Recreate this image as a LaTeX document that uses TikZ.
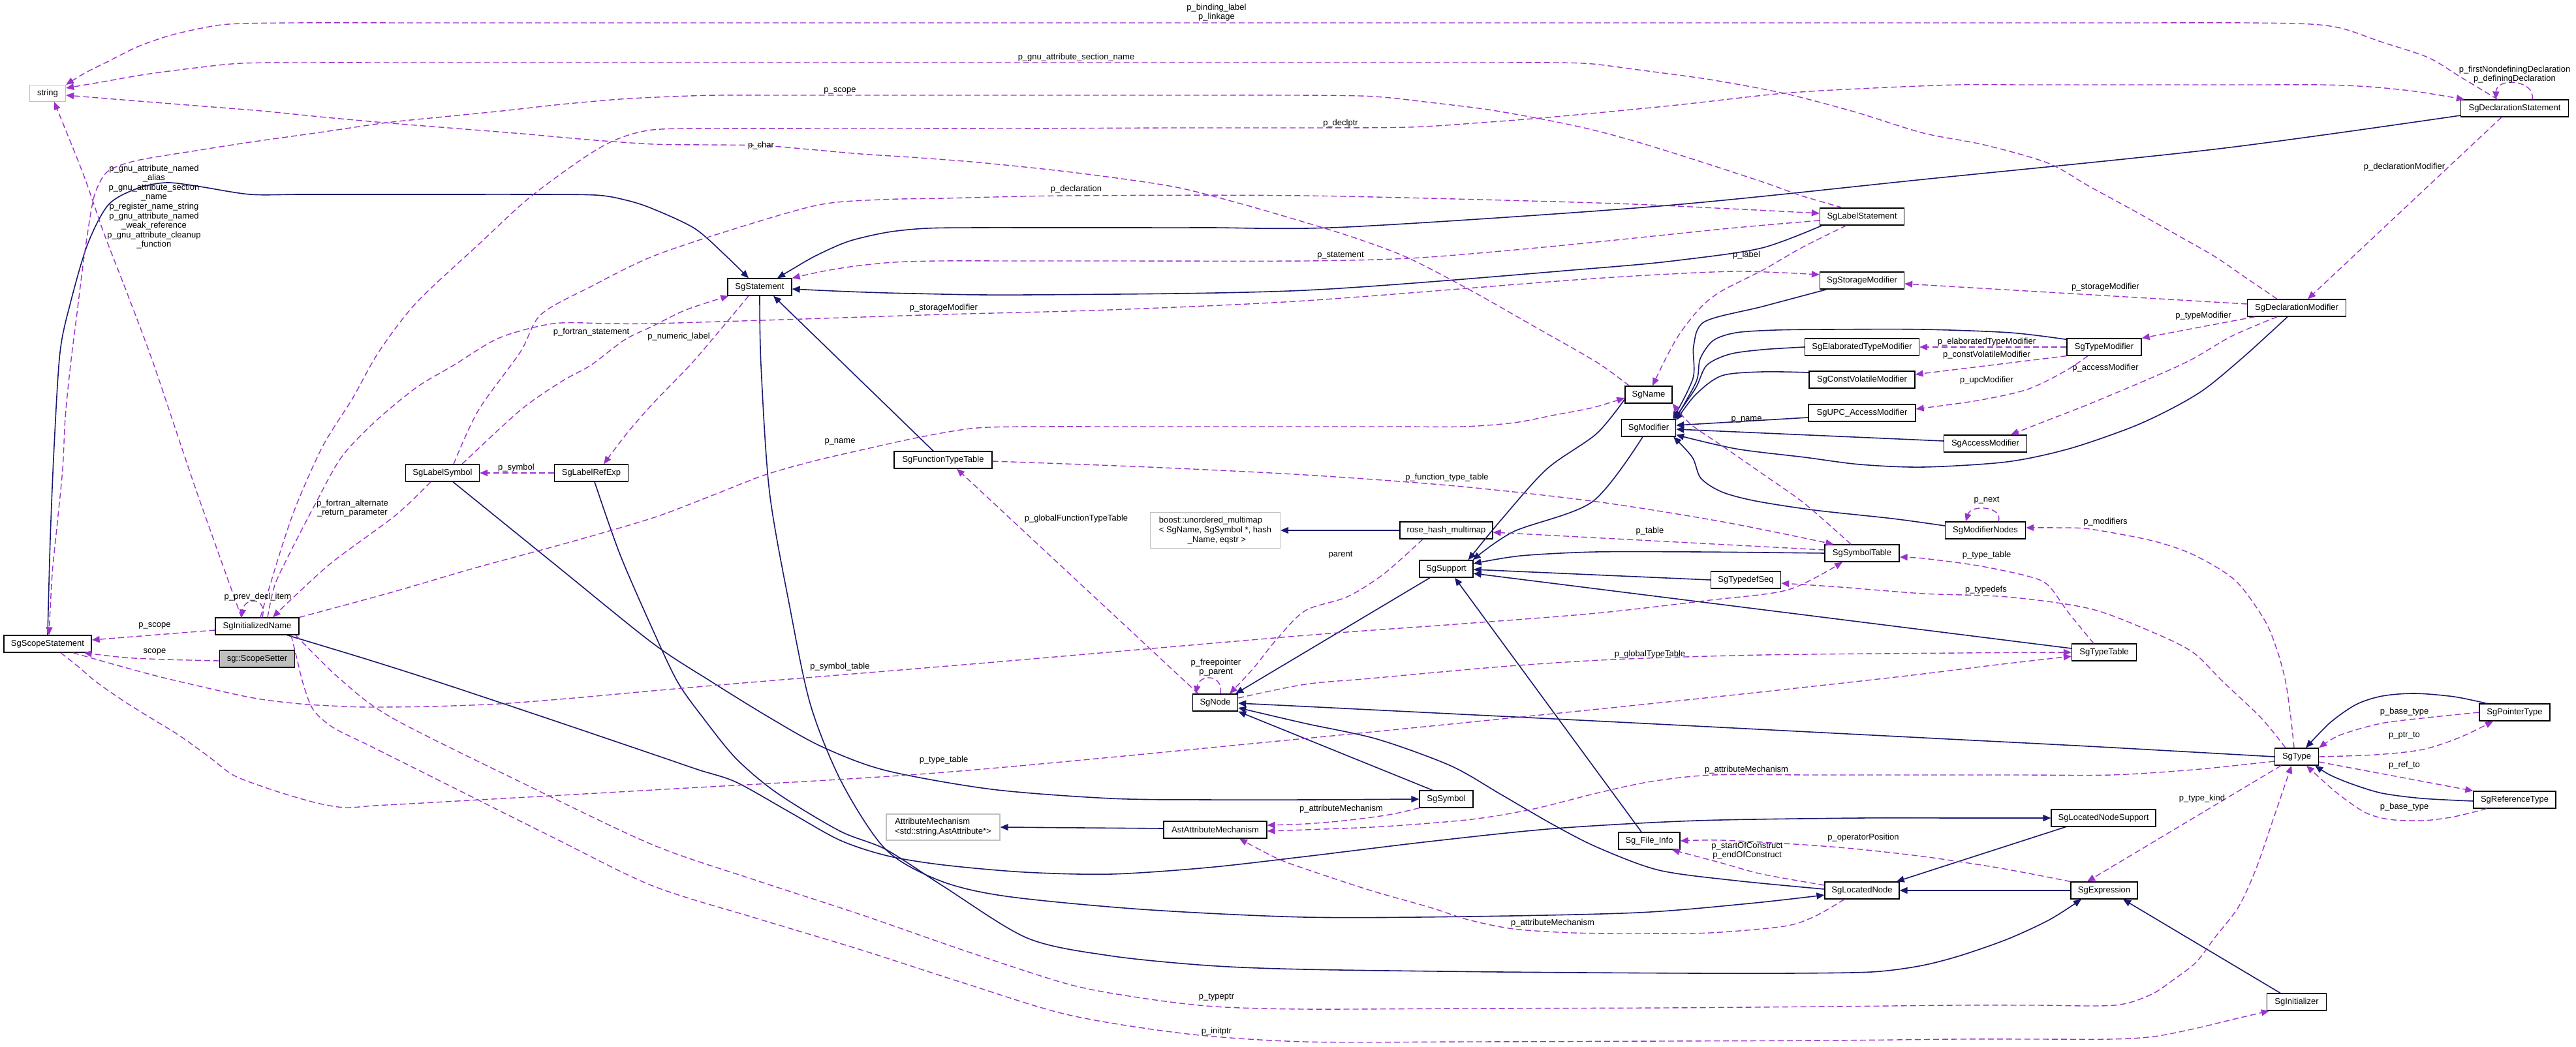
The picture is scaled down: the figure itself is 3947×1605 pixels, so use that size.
\documentclass[tikz,border=0pt]{standalone}
\usepackage{fontspec}
\setmainfont{Liberation Sans}
\usetikzlibrary{arrows.meta}
\definecolor{edgeblue}{HTML}{191970}
\definecolor{edgepurple}{HTML}{9A32CD}
\definecolor{boxgray}{HTML}{BFBFBF}
\tikzset{
  box/.style={draw=black, line width=1.3pt, minimum height=26pt, inner sep=0pt, font=\fontsize{13}{15}\selectfont},
  gbox/.style={box, draw=boxgray},
  inh/.style={draw=edgeblue, line width=1.6pt, -{Triangle[length=12pt,width=10pt]}},
  dep/.style={draw=edgepurple, line width=1.4pt, dash pattern=on 9pt off 5pt, -{Triangle[length=12pt,width=10pt]}},
  lbl/.style={font=\fontsize{13}{14.6}\selectfont, align=center, inner sep=0pt},
}
\begin{document}
\begin{tikzpicture}[x=1pt,y=-1pt]
\fill[white] (0,0) rectangle (3947,1605);
\useasboundingbox (0,0) rectangle (3947,1605);

% ---------------- nodes
\node[gbox, minimum width=55pt, minimum height=25pt] (string) at (73,143) {string};
\node[box, minimum width=98pt] (SgStatement) at (1164,440) {SgStatement};
\node[box, minimum width=129pt] (SgLabelStatement) at (2853,332) {SgLabelStatement};
\node[box, minimum width=129pt] (SgStorageModifier) at (2853,430) {SgStorageModifier};
\node[box, minimum width=175pt] (SgElaboratedTypeModifier) at (2853,532) {SgElaboratedTypeModifier};
\node[box, minimum width=162pt] (SgConstVolatileModifier) at (2853,582) {SgConstVolatileModifier};
\node[box, minimum width=164pt] (SgUPCAccessModifier) at (2853,633) {SgUPC\_AccessModifier};
\node[box, minimum width=165pt] (SgDeclarationStatement) at (3853,166) {SgDeclarationStatement};
\node[box, minimum width=151pt] (SgDeclarationModifier) at (3519,472) {SgDeclarationModifier};
\node[box, minimum width=114pt] (SgTypeModifier) at (3224,532) {SgTypeModifier};
\node[box, minimum width=134pt] (SgScopeStatement) at (73,987) {SgScopeStatement};
\node[box, minimum width=128pt] (SgInitializedName) at (394,960) {SgInitializedName};
\node[box, minimum width=115pt, fill=boxgray] (ScopeSetter) at (394,1010) {sg::ScopeSetter};
\node[box, minimum width=113pt] (SgLabelSymbol) at (678,725) {SgLabelSymbol};
\node[box, minimum width=113pt] (SgLabelRefExp) at (906,725) {SgLabelRefExp};
\node[box, minimum width=150pt] (SgFunctionTypeTable) at (1445,705) {SgFunctionTypeTable};
\node[gbox, minimum width=199pt, minimum height=55pt, align=left, font=\fontsize{13}{14.8}\selectfont] (boostmap) at (1862,813) {boost::unordered\_multimap\\< SgName, SgSymbol *, hash\\\hspace*{44pt}\_Name, eqstr >};
\node[box, minimum width=69pt] (SgNode) at (1862,1077) {SgNode};
\node[box, minimum width=72pt] (SgName) at (2526,605) {SgName};
\node[box, minimum width=83pt] (SgModifier) at (2526,656) {SgModifier};
\node[box, minimum width=142pt] (rosehash) at (2216,813) {rose\_hash\_multimap};
\node[box, minimum width=82pt] (SgSupport) at (2216,872) {SgSupport};
\node[box, minimum width=114pt] (SgSymbolTable) at (2853,848) {SgSymbolTable};
\node[box, minimum width=107pt] (SgTypedefSeq) at (2675,889) {SgTypedefSeq};
\node[box, minimum width=127pt] (SgAccessModifier) at (3042,680) {SgAccessModifier};
\node[box, minimum width=123pt] (SgModifierNodes) at (3042,813) {SgModifierNodes};
\node[box, minimum width=99pt] (SgTypeTable) at (3224,1000) {SgTypeTable};
\node[box, minimum width=108pt] (SgPointerType) at (3853,1092) {SgPointerType};
\node[box, minimum width=67pt] (SgType) at (3519,1160) {SgType};
\node[box, minimum width=126pt] (SgReferenceType) at (3853,1226) {SgReferenceType};
\node[box, minimum width=160pt] (SgLocatedNodeSupport) at (3223,1254) {SgLocatedNodeSupport};
\node[box, minimum width=102pt] (SgExpression) at (3224,1365) {SgExpression};
\node[box, minimum width=91pt] (SgInitializer) at (3519,1536) {SgInitializer};
\node[box, minimum width=82pt] (SgSymbol) at (2216,1225) {SgSymbol};
\node[box, minimum width=94pt] (SgFileInfo) at (2527,1289) {Sg\_File\_Info};
\node[box, minimum width=114pt] (SgLocatedNode) at (2853,1365) {SgLocatedNode};
\node[gbox, minimum width=174pt, minimum height=40pt, align=left, font=\fontsize{13}{14.8}\selectfont] (AttrMech) at (1445,1268) {AttributeMechanism\\<std::string,AstAttribute*>};
\node[box, minimum width=158pt] (AstAttr) at (1862,1272) {AstAttributeMechanism};

% ---------------- inheritance edges
\draw[inh] plot[smooth,tension=0.5] coordinates {(SgScopeStatement.north) (77,826) (83,683) (92,540) (108,464) (134,375) (166,314) (210,289) (255,280) (306,286) (383,298) (460,298) (560,298) (690,298) (800,298) (912,299) (960,307) (1000,320) (1064,350) (1110,390) ([shift={(-17,0)}]SgStatement.north)};
\draw[inh] plot[smooth,tension=0.5] coordinates {([shift={(4,0)}]SgLabelStatement.south west) (2700,380) (2580,398) (2446,411) (2000,445) (1574,452) (1400,450) (1300,447) ([shift={(0,3)}]SgStatement.east)};
\draw[inh] plot[smooth,tension=0.5] coordinates {([shift={(0,11)}]SgDeclarationStatement.west) (3400,228) (2947,275) (2542,316) (2064,348) (1850,349) (1700,349) (1600,349) (1500,349) (1420,350) (1360,356) (1300,370) (1250,392) (1215,412) ([shift={(27,0)}]SgStatement.north)};
\draw[inh] ([shift={(-15,0)}]SgFunctionTypeTable.north) -- ([shift={(21,0)}]SgStatement.south);
\draw[inh] plot[smooth,tension=0.5] coordinates {(SgStatement.south) (1166,560) (1179,754) (1210,930) (1242,1081) (1290,1200) (1357,1302) (1440,1350) (1542,1374) (1750,1394) (2000,1406) (2250,1405) (2510,1399) (2680,1385) ([shift={(0,7)}]SgLocatedNode.west)};
\draw[inh] plot[smooth,tension=0.5] coordinates {([shift={(0,-2)}]SgLocatedNode.west) (2660,1350) (2542,1334) (2450,1300) (2383,1266) (2300,1218) (2223,1174) (2110,1133) (2000,1109) ([shift={(0,8)}]SgNode.east)};
\draw[inh] ([shift={(-21,0)}]SgSymbol.north) -- (SgNode.south east);
\draw[inh] plot[smooth,tension=0.5] coordinates {(SgType.west) (3200,1144) (2947,1131) (2500,1108) (2200,1093) (2000,1083) ([shift={(0,1)}]SgNode.east)};
\draw[inh] ([shift={(-25,0)}]SgSupport.south) -- ([shift={(-4,0)}]SgNode.north east);
\draw[inh] plot[smooth,tension=0.5] coordinates {([shift={(16,0)}]SgLabelSymbol.south) (850,865) (1000,986) (1090,1045) (1179,1100) (1260,1145) (1357,1181) (1520,1210) (1702,1224) (1850,1226) (2000,1226) (SgSymbol.west)};
\draw[inh] plot[smooth,tension=0.5] coordinates {([shift={(5,0)}]SgLabelRefExp.south) (950,850) (1000,965) (1038,1045) (1077,1100) (1128,1163) (1191,1216) (1287,1274) (1357,1302) (1446,1359) (1574,1438) (1700,1465) (1850,1480) (2000,1486) (2300,1490) (2600,1492) (2740,1492) (2867,1490) (2940,1481) (3000,1466) (3075,1440) (3140,1410) ([shift={(-35,0)}]SgExpression.south)};
\draw[inh] plot[smooth,tension=0.5] coordinates {([shift={(46,0)}]SgInitializedName.south) (560,1010) (670,1045) (835,1100) (1000,1156) (1070,1180) (1128,1199) (1210,1245) (1287,1288) (1360,1312) (1446,1326) (1570,1337) (1702,1340) (1850,1330) (2000,1313) (2190,1290) (2383,1270) (2600,1258) (2850,1254) (3000,1254) (SgLocatedNodeSupport.west)};
\draw[inh] ([shift={(-58,0)}]SgLocatedNodeSupport.south) -- ([shift={(-5,0)}]SgLocatedNode.north east);
\draw[inh] (SgExpression.west) -- (SgLocatedNode.east);
\draw[inh] ([shift={(-25,0)}]SgInitializer.north) -- ([shift={(29,0)}]SgExpression.south);
\draw[inh] plot[smooth,tension=0.5] coordinates {([shift={(12,0)}]SgPointerType.north west) (3760,1068) (3700,1063) (3650,1067) (3610,1080) (3570,1108) ([shift={(14,0)}]SgType.north)};
\draw[inh] plot[smooth,tension=0.5] coordinates {([shift={(0,2)}]SgReferenceType.west) (3712,1224) (3650,1216) (3604,1202) (3570,1188) ([shift={(-6,0)}]SgType.south east)};
\draw[inh] (rosehash.west) -- (boostmap.east);
\draw[inh] ([shift={(0,-2)}]AstAttr.west) -- (AttrMech.east);
\draw[inh] plot[smooth,tension=0.5] coordinates {([shift={(0,7)}]SgName.west) (2446,665) (2370,719) (2300,797) ([shift={(-8,0)}]SgSupport.north east)};
\draw[inh] plot[smooth,tension=0.5] coordinates {([shift={(-9,0)}]SgModifier.south) (2440,769) (2319,815) ([shift={(-1,0)}]SgSupport.north east)};
\draw[inh] plot[smooth,tension=0.5] coordinates {(SgSymbolTable.west) (2600,846) (2446,846) (2330,852) ([shift={(0,-8)}]SgSupport.east)};
\draw[inh] (SgTypedefSeq.west) -- ([shift={(0,1)}]SgSupport.east);
\draw[inh] ([shift={(0,-6)}]SgTypeTable.west) -- ([shift={(0,7)}]SgSupport.east);
\draw[inh] ([shift={(-12,0)}]SgFileInfo.north) -- ([shift={(13,0)}]SgSupport.south);
\draw[inh] plot[smooth,tension=0.5] coordinates {([shift={(11,0)}]SgStorageModifier.south west) (2700,470) (2612,493) (2595,530) (2594,580) ([shift={(-5,0)}]SgModifier.north east)};
\draw[inh] plot[smooth,tension=0.5] coordinates {(SgElaboratedTypeModifier.west) (2700,536) (2650,543) (2615,560) (2598,595) ([shift={(-3,0)}]SgModifier.north east)};
\draw[inh] plot[smooth,tension=0.5] coordinates {([shift={(0,2)}]SgTypeModifier.north west) (3080,510) (2947,505) (2800,505) (2720,506) (2660,510) (2625,522) (2605,550) (2599,585) ([shift={(-1,0)}]SgModifier.north east)};
\draw[inh] plot[smooth,tension=0.5] coordinates {([shift={(0,-11)}]SgConstVolatileModifier.west) (2700,570) (2638,576) (2598,605) ([shift={(0,2)}]SgModifier.north east)};
\draw[inh] ([shift={(0,7)}]SgUPCAccessModifier.west) -- ([shift={(0,-4)}]SgModifier.east);
\draw[inh] ([shift={(0,-4)}]SgAccessModifier.west) -- ([shift={(0,2)}]SgModifier.east);
\draw[inh] plot[smooth,tension=0.5] coordinates {([shift={(-14,0)}]SgDeclarationModifier.south) (3440,545) (3380,595) (3330,625) (3266,655) (3170,688) (3075,708) (2947,716) (2850,712) (2765,701) (2660,688) ([shift={(0,-3)}]SgModifier.south east)};
\draw[inh] plot[smooth,tension=0.5] coordinates {([shift={(0,-7)}]SgModifierNodes.west) (2900,795) (2780,782) (2690,768) (2638,754) (2606,733) (2593,701) ([shift={(-4,0)}]SgModifier.south east)};

% ---------------- usage edges
\draw[dep] plot[smooth,tension=0.5] coordinates {([shift={(-26,0)}]SgDeclarationStatement.north) (3770,118) (3720,88) (3648,64) (3590,44) (3540,37) (3440,35) (3240,35) (2840,35) (2040,35) (1251,35) (851,35) (651,35) (451,35) (351,37) (300,45) (255,56) (210,72) (166,94) (130,112) (string.north east)};
\draw[dep] plot[smooth,tension=0.5] coordinates {([shift={(-30,0)}]SgDeclarationModifier.north) (3440,425) (3393,393) (3330,357) (3266,321) (3200,285) (3138,250) (3040,222) (2947,204) (2840,171) (2733,143) (2620,122) (2510,107) (2440,98) (2383,96) (2280,96) (2080,96) (1680,96) (1080,96) (670,96) (470,96) (370,97) (300,104) (223,114) (160,125) ([shift={(0,-8)}]string.east)};
\draw[dep] plot[smooth,tension=0.5] coordinates {([shift={(-30,0)}]SgLabelStatement.north) (2760,300) (2701,279) (2600,246) (2510,218) (2440,199) (2370,184) (2280,168) (2191,157) (2130,150) (2083,147) (1980,146) (1780,146) (1400,146) (1200,146) (1100,146) (1030,148) (950,152) (860,160) (770,170) (680,179) (593,188) (490,203) (383,218) (300,231) (210,246) (166,262) (148,290) (140,321) (128,400) (118,480) (108,560) (100,640) (96,719) (88,800) (80,880) ([shift={(2,0)}]SgScopeStatement.north)};
\draw[dep] plot[smooth,tension=0.5] coordinates {([shift={(7,0)}]SgName.north west) (2446,555) (2350,500) (2255,446) (2159,396) (2080,366) (2000,341) (1900,312) (1797,286) (1650,265) (1510,250) (1410,242) (1319,236) (1240,229) (1166,223) (1080,222) (1000,221) (900,214) (800,205) (700,197) (600,189) (500,180) (400,170) (300,162) (200,154) ([shift={(0,3)}]string.east)};
\draw[dep] plot[smooth,tension=0.5] coordinates {([shift={(-24,0)}]SgInitializedName.north) (300,750) (236,560) (195,450) (159,357) (128,268) ([shift={(10,0)}]string.south)};
\draw[dep] plot[smooth,tension=0.5] coordinates {([shift={(5,0)}]SgInitializedName.north) (430,844) (455,772) (495,683) (540,611) (580,540) (638,464) (733,375) (810,304) (893,243) (944,214) (1000,199) (1100,197) (1300,197) (1550,197) (1800,196) (2000,196) (2159,195) (2270,188) (2383,179) (2560,162) (2733,143) (2870,135) (3000,130) (3100,130) (3220,130) (3340,130) (3460,130) (3559,130) (3630,133) (3700,140) ([shift={(6,0)}]SgDeclarationStatement.north west)};
\draw[dep] plot[smooth,tension=0.5] coordinates {([shift={(16,0)}]SgInitializedName.north) (421,897) (446,844) (485,769) (523,701) (574,647) (638,594) (695,560) (765,518) (848,496) (930,496) (1000,496) (1200,490) (1446,482) (1700,475) (2000,461) (2400,430) (2560,420) (2660,416) (2730,418) ([shift={(0,-9)}]SgStorageModifier.west)};
\draw[dep] plot[smooth,tension=0.5] coordinates {([shift={(17,0)}]SgLabelSymbol.north) (733,629) (797,540) (829,482) (906,439) (1000,393) (1128,350) (1255,314) (1350,306) (1446,304) (1638,300) (2000,300) (2446,311) (2650,320) ([shift={(0,-5)}]SgLabelStatement.west)};
\draw[dep] plot[smooth,tension=0.5] coordinates {([shift={(30,0)}]SgLabelSymbol.north) (797,629) (860,585) (905,560) (957,521) (1000,500) (1051,475) ([shift={(2,0)}]SgStatement.south west)};
\draw[dep] plot[smooth,tension=0.5] coordinates {([shift={(-18,0)}]SgLabelSymbol.south) (606,790) (510,861) (446,919) ([shift={(24,0)}]SgInitializedName.north)};
\draw[dep] ([shift={(8,0)}]SgInitializedName.north) .. controls (410,915) and (375,915) .. ([shift={(-24,0)}]SgInitializedName.north);
\draw[dep] ([shift={(0,6)}]SgInitializedName.west) -- ([shift={(0,-6)}]SgScopeStatement.east);
\draw[dep] plot[smooth,tension=0.5] coordinates {([shift={(0,3)}]ScopeSetter.west) (255,1011) (191,1008) ([shift={(-12,0)}]SgScopeStatement.south east)};
\draw[dep] plot[smooth,tension=0.5] coordinates {([shift={(39,0)}]SgScopeStatement.south) (180,1020) (255,1040) (383,1069) (460,1079) (529,1083) (574,1084) (660,1083) (765,1079) (880,1070) (1000,1059) (1150,1046) (1500,1017) (2000,974) (2230,957) (2446,940) (2620,920) (2740,904) ([shift={(-30,0)}]SgSymbolTable.south)};
\draw[dep] plot[smooth,tension=0.5] coordinates {([shift={(20,0)}]SgScopeStatement.south) (120,1022) (147,1045) (190,1075) (230,1100) (274,1127) (320,1160) (357,1188) (400,1205) (446,1220) (490,1232) (529,1238) (574,1235) (630,1232) (700,1228) (1000,1211) (1446,1184) (2000,1132) (2400,1092) (2650,1066) (2842,1045) (2947,1033) (3060,1019) ([shift={(0,6)}]SgTypeTable.west)};
\draw[dep] plot[smooth,tension=0.5] coordinates {(SgInitializedName.north east) (600,908) (730,870) (870,832) (1000,794) (1090,760) (1172,728) (1250,706) (1319,690) (1410,670) (1497,656) (1600,654) (1702,654) (1850,654) (2000,654) (2130,654) (2242,654) (2320,648) (2383,636) (2440,625) ([shift={(0,5)}]SgName.west)};
\draw[dep] plot[smooth,tension=0.5] coordinates {([shift={(59,0)}]SgInitializedName.south) (520,1040) (600,1100) (800,1200) (1000,1295) (1160,1350) (1319,1402) (1480,1458) (1638,1509) (1750,1530) (1861,1543) (2000,1547) (2250,1546) (2550,1545) (2800,1543) (3000,1541) (3120,1541) (3240,1541) (3295,1525) (3330,1502) (3365,1475) (3393,1438) (3430,1390) (3457,1331) (3485,1250) ([shift={(-8,0)}]SgType.south)};
\draw[dep] plot[smooth,tension=0.5] coordinates {([shift={(52,0)}]SgInitializedName.south) (455,1010) (465,1050) (480,1088) (510,1115) (560,1140) (620,1170) (700,1210) (850,1285) (1000,1358) (1160,1408) (1319,1456) (1480,1508) (1638,1556) (1820,1585) (2000,1597) (2250,1597) (2550,1596) (2800,1595) (3000,1593) (3120,1593) (3234,1593) (3300,1589) (3362,1577) (3420,1563) ([shift={(4,0)}]SgInitializer.south west)};
\draw[dep] (SgLabelRefExp.west) -- (SgLabelSymbol.east);
\draw[dep] plot[smooth,tension=0.5] coordinates {([shift={(-17,0)}]SgStatement.south) (1100,510) (1057,560) (1000,619) (960,665) ([shift={(19,0)}]SgLabelRefExp.north)};
\draw[dep] plot[smooth,tension=0.5] coordinates {([shift={(0,6)}]SgLabelStatement.west) (2650,350) (2446,371) (2300,385) (2159,396) (2000,400) (1700,400) (1550,400) (1440,400) (1370,402) (1310,408) (1260,416) (SgStatement.north east)};
\draw[dep] plot[smooth,tension=0.5] coordinates {([shift={(-24,0)}]SgLabelStatement.south) (2760,380) (2701,414) (2638,446) (2606,471) (2574,511) (2552,550) ([shift={(6,0)}]SgName.north)};
\draw[dep] ([shift={(27,0)}]SgDeclarationStatement.north) .. controls (3885,122) and (3825,118) .. ([shift={(-29,0)}]SgDeclarationStatement.north);
\draw[dep] ([shift={(-20,0)}]SgDeclarationStatement.south) -- ([shift={(17,0)}]SgDeclarationModifier.north);
\draw[dep] ([shift={(0,-6)}]SgDeclarationModifier.west) -- ([shift={(0,5)}]SgStorageModifier.east);
\draw[dep] ([shift={(12,0)}]SgDeclarationModifier.south west) -- (SgTypeModifier.north east);
\draw[dep] plot[smooth,tension=0.5] coordinates {([shift={(-30,0)}]SgDeclarationModifier.south) (3420,515) (3360,550) (3304,576) (3202,619) (3138,644) ([shift={(39,0)}]SgAccessModifier.north)};
\draw[dep] (SgTypeModifier.west) -- (SgElaboratedTypeModifier.east);
\draw[dep] (SgTypeModifier.south west) -- ([shift={(0,-8)}]SgConstVolatileModifier.east);
\draw[dep] plot[smooth,tension=0.5] coordinates {([shift={(-25,0)}]SgTypeModifier.south) (3164,569) (3106,597) (3030,614) ([shift={(0,-6)}]SgUPCAccessModifier.east)};
\draw[dep] plot[smooth,tension=0.5] coordinates {([shift={(-4,0)}]SgType.north) (3510,1100) (3502,1045) (3490,1000) (3470,951) (3425,890) (3362,851) (3298,829) (3202,811) (3150,809) ([shift={(0,-4)}]SgModifierNodes.east)};
\draw[dep] plot[smooth,tension=0.5] coordinates {([shift={(-17,0)}]SgType.north) (3464,1100) (3406,1045) (3360,1000) (3298,969) (3202,933) (3075,915) (2947,910) (2820,900) ([shift={(0,5)}]SgTypedefSeq.east)};
\draw[dep] plot[smooth,tension=0.5] coordinates {([shift={(0,7)}]SgType.west) (3360,1180) (3234,1188) (3100,1188) (2947,1188) (2780,1188) (2625,1188) (2530,1198) (2446,1216) (2350,1240) (2255,1256) (2120,1267) (2000,1272) ([shift={(0,2)}]AstAttr.east)};
\draw[dep] plot[smooth,tension=0.5] coordinates {(SgSymbol.south west) (2128,1249) (2060,1258) (2000,1263) ([shift={(0,-7)}]AstAttr.east)};
\draw[dep] plot[smooth,tension=0.5] coordinates {([shift={(-27,0)}]SgLocatedNode.south) (2780,1405) (2733,1420) (2620,1430) (2510,1431) (2410,1430) (2319,1424) (2250,1410) (2191,1391) (2100,1365) (2006,1334) (1957,1316) ([shift={(37,0)}]AstAttr.south)};
\draw[dep] plot[smooth,tension=0.5] coordinates {([shift={(0,-8)}]SgLocatedNode.west) (2700,1340) (2638,1323) ([shift={(-13,0)}]SgFileInfo.south east)};
\draw[dep] plot[smooth,tension=0.5] coordinates {(SgExpression.north west) (3060,1330) (2947,1313) (2850,1302) (2765,1295) (2638,1288) (SgFileInfo.east)};
\draw[dep] ([shift={(-24,0)}]SgType.south) -- ([shift={(-26,0)}]SgExpression.north);
\draw[dep] plot[smooth,tension=0.5] coordinates {(SgPointerType.west) (3720,1100) (3648,1109) (3585,1127) (SgType.north east)};
\draw[dep] plot[smooth,tension=0.5] coordinates {(SgType.east) (3640,1157) (3712,1149) (3770,1130) ([shift={(-33,0)}]SgPointerType.south)};
\draw[dep] ([shift={(0,8)}]SgType.east) -- (SgReferenceType.north west);
\draw[dep] plot[smooth,tension=0.5] coordinates {([shift={(-43,0)}]SgReferenceType.south) (3760,1252) (3712,1258) (3660,1256) (3623,1245) (3580,1215) ([shift={(15,0)}]SgType.south)};
\draw[dep] plot[smooth,tension=0.5] coordinates {([shift={(-17,0)}]SgSymbolTable.north) (2765,772) (2700,726) (2638,683) (2590,650) (SgName.south east)};
\draw[dep] plot[smooth,tension=0.5] coordinates {([shift={(0,2)}]SgFunctionTypeTable.east) (1760,716) (2000,728) (2230,745) (2446,769) (2640,800) ([shift={(14,0)}]SgSymbolTable.north west)};
\draw[dep] ([shift={(0,-5)}]SgSymbolTable.west) -- ([shift={(0,3)}]rosehash.east);
\draw[dep] plot[smooth,tension=0.5] coordinates {([shift={(-16,0)}]SgTypeTable.north) (3170,940) (3138,897) (3106,883) (3030,867) (2947,856) ([shift={(0,6)}]SgSymbolTable.east)};
\draw[dep] plot[smooth,tension=0.5] coordinates {([shift={(0,-7)}]SgNode.east) (2000,1049) (2100,1040) (2300,1022) (2472,1011) (2700,1004) (3000,1001) (SgTypeTable.west)};
\draw[dep] plot[smooth,tension=0.5] coordinates {([shift={(-36,0)}]rosehash.south) (2120,880) (2064,915) (2000,936) (1957,979) (1920,1025) ([shift={(22,0)}]SgNode.north)};
\draw[dep] ([shift={(-26,0)}]SgNode.north) -- ([shift={(21,0)}]SgFunctionTypeTable.south);
\draw[dep] ([shift={(8,0)}]SgNode.north) .. controls (1875,1033) and (1838,1033) .. ([shift={(-30,0)}]SgNode.north);
\draw[dep] ([shift={(20,0)}]SgModifierNodes.north) .. controls (3070,776) and (3020,773) .. ([shift={(-30,0)}]SgModifierNodes.north);

% ---------------- labels
\node[lbl] (lA) at (1864,19) {p\_binding\_label\\p\_linkage};
\node[lbl] (lB) at (1649,88) {p\_gnu\_attribute\_section\_name};
\node[lbl] (lC) at (1287,139) {p\_scope};
\node[lbl] (lD) at (2054,189) {p\_declptr};
\node[lbl] (lE) at (1166,223) {p\_char};
\node[lbl] (lF) at (1649,290) {p\_declaration};
\node[lbl] (lG) at (2054,392) {p\_statement};
\node[lbl] (lH) at (2676,391) {p\_label};
\node[lbl] (lI) at (1446,472) {p\_storageModifier};
\node[lbl] (lJ) at (3226,440) {p\_storageModifier};
\node[lbl] (lK) at (3853,114) {p\_firstNondefiningDeclaration\\p\_definingDeclaration};
\node[lbl] (lL) at (3684,256) {p\_declarationModifier};
\node[lbl] (lM) at (3376,484) {p\_typeModifier};
\node[lbl] (lN) at (3044,524) {p\_elaboratedTypeModifier};
\node[lbl] (lO) at (3044,544) {p\_constVolatileModifier};
\node[lbl] (lP) at (3226,564) {p\_accessModifier};
\node[lbl] (lQ) at (3044,583) {p\_upcModifier};
\node[lbl] (lR) at (2676,643) {p\_name};
\node[lbl] (lS) at (1287,677) {p\_name};
\node[lbl] (lT) at (2217,732) {p\_function\_type\_table};
\node[lbl] (lU) at (1040,516) {p\_numeric\_label};
\node[lbl] (lV) at (906,509) {p\_fortran\_statement};
\node[lbl] (lW) at (791,717) {p\_symbol};
\node[lbl] (lX) at (540,779) {p\_fortran\_alternate\\\_return\_parameter};
\node[lbl] (lY) at (395,915) {p\_prev\_decl\_item};
\node[lbl] (lZ) at (236,317) {p\_gnu\_attribute\_named\\\_alias\\p\_gnu\_attribute\_section\\\_name\\p\_register\_name\_string\\p\_gnu\_attribute\_named\\\_weak\_reference\\p\_gnu\_attribute\_cleanup\\\_function};
\node[lbl] (la) at (237,959) {p\_scope};
\node[lbl] (lb) at (237,999) {scope};
\node[lbl] (lc) at (1649,795) {p\_globalFunctionTypeTable};
\node[lbl] (ld) at (2528,814) {p\_table};
\node[lbl] (le) at (2054,851) {parent};
\node[lbl] (lf) at (3044,851) {p\_type\_table};
\node[lbl] (lg) at (3226,800) {p\_modifiers};
\node[lbl] (lh) at (3044,767) {p\_next};
\node[lbl] (li) at (3043,904) {p\_typedefs};
\node[lbl] (lj) at (1863,1023) {p\_freepointer\\p\_parent};
\node[lbl] (lk) at (2528,1003) {p\_globalTypeTable};
\node[lbl] (ll) at (1287,1022) {p\_symbol\_table};
\node[lbl] (lm) at (1446,1165) {p\_type\_table};
\node[lbl] (ln) at (2676,1180) {p\_attributeMechanism};
\node[lbl] (lo) at (2055,1240) {p\_attributeMechanism};
\node[lbl] (lp) at (2379,1415) {p\_attributeMechanism};
\node[lbl] (lq) at (2677,1304) {p\_startOfConstruct\\p\_endOfConstruct};
\node[lbl] (lr) at (2855,1284) {p\_operatorPosition};
\node[lbl] (ls) at (3684,1091) {p\_base\_type};
\node[lbl] (lt) at (3684,1128) {p\_ptr\_to};
\node[lbl] (lu) at (3684,1173) {p\_ref\_to};
\node[lbl] (lv) at (3684,1237) {p\_base\_type};
\node[lbl] (lw) at (3374,1224) {p\_type\_kind};
\node[lbl] (lx) at (1864,1529) {p\_typeptr};
\node[lbl] (ly) at (1864,1581) {p\_initptr};
\end{tikzpicture}
\end{document}
